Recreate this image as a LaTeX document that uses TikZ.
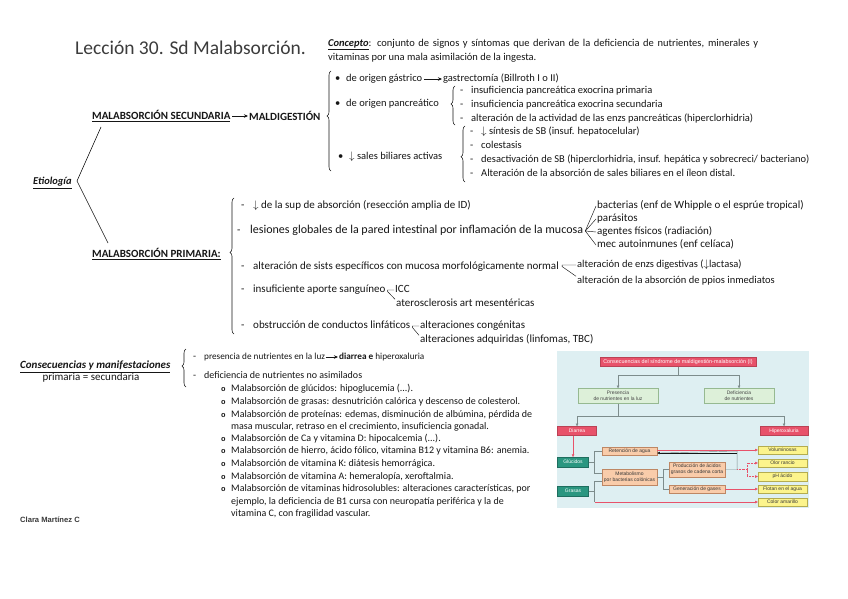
\documentclass[tikz,border=0pt]{standalone}
\usepackage{fontspec}
\setmainfont{Carlito}
\newfontfamily\diagfont{Liberation Sans}
\newfontfamily\autorfont{Liberation Sans}
\newfontfamily\bolafont{Liberation Mono}
\usepackage{tikz}
\usetikzlibrary{positioning,arrows.meta,calc,decorations.pathreplacing}
\definecolor{ink}{RGB}{22,22,22}
\definecolor{titgray}{RGB}{60,60,60}
\definecolor{fondo}{RGB}{222,239,242}
\definecolor{rojo}{RGB}{232,82,106}
\definecolor{verdeclaro}{RGB}{221,240,217}
\definecolor{verdeborde}{RGB}{150,185,145}
\definecolor{teal}{RGB}{42,150,128}
\definecolor{tealborde}{RGB}{30,110,95}
\definecolor{naranja}{RGB}{249,204,170}
\definecolor{naranjaborde}{RGB}{190,135,100}
\definecolor{amarillo}{RGB}{252,244,140}
\definecolor{amarilloborde}{RGB}{180,172,80}
\definecolor{lineagris}{RGB}{125,140,140}
\newcommand\fsec{\fontsize{10.5}{12}\selectfont}
\newcommand\fprim{\fontsize{11}{12.5}\selectfont}
\newcommand\fcons{\fontsize{10}{11.5}\selectfont}
\newcommand\fcab{\fontsize{11}{12.5}\selectfont}
\newcommand\fdiag{\fontsize{5}{6}\selectfont}
\newcommand\guion{-}
\newcommand\bola{{\bolafont\bfseries\fontsize{7.5}{7.5}\selectfont o}}
\tikzset{
  titulo/.style={anchor=west, inner sep=0pt, font=\fontsize{19.5}{22}\selectfont, text=titgray},
  txt/.style={anchor=west, inner sep=0pt, font=\fsec, text=ink, text height=1.5ex, text depth=.4ex},
  ptxt/.style={txt, font=\fprim},
  ctxt/.style={txt, font=\fcons},
  cab/.style={anchor=west, inner sep=0pt, font=\fcab\bfseries, text=ink},
  llave/.style={decorate, decoration={brace, amplitude=4pt, aspect=#1}, line width=0.55pt, draw=ink},
  llave/.default=0.5,
  rama/.style={line width=0.6pt, draw=ink},
  fork/.style={line width=0.45pt, draw=ink},
  flecha/.style={-{Stealth[length=4pt,width=3.5pt]}, line width=0.7pt, draw=ink, shorten <=1.5pt, shorten >=1pt},
  dbox/.style={draw, line width=0.4pt, align=center, inner sep=0pt, font=\diagfont\fdiag},
  rbox/.style={dbox, fill=rojo, draw=rojo!80!black, text=white},
  gbox/.style={dbox, fill=verdeclaro, draw=verdeborde, text=ink!80},
  tbox/.style={dbox, fill=teal, draw=tealborde, text=white},
  obox/.style={dbox, fill=naranja, draw=naranjaborde, text=ink!85},
  ybox/.style={dbox, fill=amarillo, draw=amarilloborde, text=ink!85, minimum width=49pt, minimum height=8.5pt},
  gline/.style={line width=0.45pt, draw=lineagris},
  garrow/.style={gline, -{Triangle[length=2.6pt,width=2.4pt]}},
  parrow/.style={line width=0.45pt, draw=rojo, -{Triangle[length=2.6pt,width=2.4pt]}},
}
\begin{document}
\begin{tikzpicture}[x=1pt,y=-1pt]
\useasboundingbox[fill=white] (0,0) rectangle (848,599);

% titulo y concepto
\node[titulo] (tit) at (75,48) {Lección 30. Sd Malabsorción.};
\node[txt] (conc1) at (328,44) {\hbox to 430pt{\underline{\textbf{\textit{Concepto}}}: conjunto de signos y síntomas que derivan de la deficiencia de nutrientes, minerales y}};
\node[txt] (conc2) at (328,58) {vitaminas por una mala asimilación de la ingesta.};

% etiologia
\node[txt] (etio) at (33,182) {\underline{\textbf{\textit{Etiología}}}};
\node[cab] (sec) at (92,116) {\underline{MALABSORCIÓN SECUNDARIA}};
\node[cab] (maldig) at (249,116) {MALDIGESTIÓN};
\node[cab] (prim) at (92,254) {\underline{MALABSORCIÓN PRIMARIA:}};
\coordinate (vert) at (77,181);
\coordinate (haciaSec) at (101,127);
\coordinate (haciaPrim) at (108,243);
\draw[rama] (haciaSec) -- (vert) -- (haciaPrim);
\draw[flecha] (sec) -- (maldig);

% maldigestion
\coordinate (ll1a) at (331,171);
\coordinate (ll1b) at (331,71);
\draw[llave=0.55] (ll1a) -- (ll1b);
\node[txt] (b1) at (335,79) {•};
\node[txt] (gast) at (346,79) {de origen gástrico};
\node[txt] (gastr) at (443,79) {gastrectomía (Billroth I o II)};
\draw[flecha] (gast) -- (gastr);
\node[txt] (b2) at (335,104) {•};
\node[txt] (panc) at (346,104) {de origen pancreático};
\coordinate (ll2a) at (455,125);
\coordinate (ll2b) at (455,86);
\draw[llave=0.54] (ll2a) -- (ll2b);
\node[txt] (g1) at (460,91) {\guion};
\node[txt] (p1) at (471,91) {insuficiencia pancreática exocrina primaria};
\node[txt] (g2) at (460,105) {\guion};
\node[txt] (p2) at (471,105) {insuficiencia pancreática exocrina secundaria};
\node[txt] (g3) at (460,119) {\guion};
\node[txt] (p3) at (471,119) {alteración de la actividad de las enzs pancreáticas (hiperclorhidria)};
\node[txt] (b3) at (338,157) {•};
\node[txt] (sal) at (349,157) {$\downarrow$ sales biliares activas};
\coordinate (ll3a) at (465,182);
\coordinate (ll3b) at (465,126);
\draw[llave=0.45] (ll3a) -- (ll3b);
\node[txt] (g4) at (470,132) {\guion};
\node[txt] (s1) at (481,132) {$\downarrow$ síntesis de SB (insuf. hepatocelular)};
\node[txt] (g5) at (470,146) {\guion};
\node[txt] (s2) at (481,146) {colestasis};
\node[txt] (g6) at (470,160) {\guion};
\node[txt] (s3) at (481,160) {desactivación de SB (hiperclorhidria, insuf. hepática y sobrecreci/ bacteriano)};
\node[txt] (g7) at (470,174) {\guion};
\node[txt] (s4) at (481,174) {Alteración de la absorción de sales biliares en el íleon distal.};

% malabsorcion primaria
\coordinate (ll4a) at (234,334);
\coordinate (ll4b) at (234,198);
\draw[llave=0.6] (ll4a) -- (ll4b);
\node[ptxt] (g8) at (241,206) {\guion};
\node[ptxt] (sup) at (253,206) {$\downarrow$ de la sup de absorción (resección amplia de ID)};
\node[ptxt] (g9) at (237,231) {\guion};
\node[ptxt, font=\fontsize{12}{13}\selectfont] (les) at (250,231) {lesiones globales de la pared intestinal por inflamación de la mucosa};
\node[ptxt] (bact) at (597,206) {bacterias (enf de Whipple o el esprúe tropical)};
\node[ptxt] (para) at (597,219) {parásitos};
\node[ptxt] (agen) at (597,232) {agentes físicos (radiación)};
\node[ptxt] (mec) at (597,245) {mec autoinmunes (enf celíaca)};
\coordinate (abanico) at ($(les.east)+(2,0)$);
\foreach \dest in {bact,para,agen,mec}
  \draw[fork] (abanico) -- ($(\dest.west)+(-1,0)$);
\node[ptxt] (g10) at (241,267) {\guion};
\node[ptxt] (alt) at (253,267) {alteración de sists específicos con mucosa morfológicamente normal};
\node[txt] (enz) at (577,265) {alteración de enzs digestivas ($\downarrow$lactasa)};
\node[txt] (ppios) at (577,281) {alteración de la absorción de ppios inmediatos};
\coordinate (horqA) at ($(alt.east)+(3,0)$);
\draw[fork] ($(enz.west)+(-1,0)$) -- (horqA |- enz.west) -- ++(0,1.5) -- ($(ppios.north west)+(-1,0)$);
\node[ptxt] (g11) at (241,290) {\guion};
\node[ptxt] (apor) at (253,290) {insuficiente aporte sanguíneo};
\node[ptxt] (icc) at (395,290) {ICC};
\node[ptxt] (ater) at (396,304) {aterosclerosis art mesentéricas};
\coordinate (horqB) at ($(apor.east)+(2,0)$);
\draw[fork] ($(icc.west)+(-1,0)$) -- (horqB) -- ++(0,1.5) -- ($(ater.north west)+(-1,0)$);
\node[ptxt] (g12) at (241,326) {\guion};
\node[ptxt] (obst) at (253,326) {obstrucción de conductos linfáticos};
\node[ptxt] (cong) at (420,326) {alteraciones congénitas};
\node[ptxt] (adq) at (420,340) {alteraciones adquiridas (linfomas, TBC)};
\coordinate (horqC) at ($(obst.east)+(2,0)$);
\draw[fork] ($(cong.west)+(-1,0)$) -- (horqC) -- ++(0,1.5) -- ($(adq.north west)+(-1,0)$);

% consecuencias
\node[ptxt] (cons) at (20,366) {\underline{\textbf{\textit{Consecuencias y manifestaciones}}}};
\node[ptxt, anchor=center] (primsec) at (91,378) {primaria = secundaria};
\coordinate (ll5a) at (186,387);
\coordinate (ll5b) at (186,349);
\draw[llave=0.55] (ll5a) -- (ll5b);
\node[ctxt] (g13) at (193,357) {\guion};
\node[ctxt, font=\fontsize{9.2}{10.5}\selectfont] (pres) at (204,357) {presencia de nutrientes en la luz};
\node[ctxt, font=\fontsize{9.2}{10.5}\selectfont] (diarr) at (339,357) {\textbf{diarrea e} hiperoxaluria};
\draw[flecha, shorten <=0.5pt] (pres) -- (diarr);
\node[ctxt] (g14) at (193,376) {\guion};
\node[ctxt] (defic) at (204,376) {deficiencia de nutrientes no asimilados};
\foreach \yy/\texto in {389/{Malabsorción de glúcidos: hipoglucemia (...).},
  402/{Malabsorción de grasas: desnutrición calórica y descenso de colesterol.},
  415/{Malabsorción de proteínas: edemas, disminución de albúmina, pérdida de},
  439/{Malabsorción de Ca y vitamina D: hipocalcemia (...).},
  451/{Malabsorción de hierro, ácido fólico, vitamina B12 y vitamina B6: anemia.},
  464/{Malabsorción de vitamina K: diátesis hemorrágica.},
  477/{Malabsorción de vitamina A: hemeralopía, xeroftalmia.},
  489/{Malabsorción de vitaminas hidrosolubles: alteraciones características, por}}{
  \node[ctxt] (o\yy) at (221,\yy) {\bola};
  \node[ctxt] (m\yy) at (231,\yy) {\texto};
}
\node[ctxt] (m427) at (231,427) {masa muscular, retraso en el crecimiento, insuficiencia gonadal.};
\node[ctxt] (m502) at (231,502) {ejemplo, la deficiencia de B1 cursa con neuropatía periférica y la de};
\node[ctxt] (m514) at (231,514) {vitamina C, con fragilidad vascular.};

\node[anchor=west, inner sep=0pt, font=\autorfont\bfseries\fontsize{7.6}{8}\selectfont, text=ink!85] (autor) at (20,520) {Clara Martínez C};

% figura: consecuencias del sindrome
\fill[fondo] (557,351) rectangle (809,508);
\node[rbox, minimum width=156pt, minimum height=9pt, font=\diagfont\fontsize{5.4}{6}\selectfont] (dtit) at (678,362) {Consecuencias del síndrome de maldigestión-malabsorción (I)};
\node[gbox, minimum width=80pt, minimum height=15pt] (npres) at (618,396) {Presencia\\de nutrientes en la luz};
\node[gbox, minimum width=70pt, minimum height=15pt] (ndef) at (739,396) {Deficiencia\\de nutrientes};
\node[rbox, minimum width=39pt, minimum height=9pt] (ndia) at (577,431) {Diarrea};
\node[rbox, minimum width=48pt, minimum height=9pt] (nhip) at (784,431) {Hiperoxaluria};
\node[tbox, minimum width=31pt, minimum height=9.5pt] (ngluc) at (573,462) {Glúcidos};
\node[tbox, minimum width=31pt, minimum height=9.5pt] (ngras) at (573,491) {Grasas};
\node[obox, minimum width=55pt, minimum height=8.5pt] (nret) at (629.5,451) {Retención de agua};
\node[obox, minimum width=55pt, minimum height=16pt] (nmet) at (629.5,477) {Metabolismo\\por bacterias colónicas};
\node[obox, minimum width=56pt, minimum height=15pt] (nprod) at (697,469.5) {Producción de ácidos\\grasos de cadena corta};
\node[obox, minimum width=56pt, minimum height=8.5pt] (ngen) at (697,489) {Generación de gases};
\node[ybox] (nvol) at (782.5,450) {Voluminosas};
\node[ybox] (nolor) at (782.5,463) {Olor rancio};
\node[ybox] (nph) at (782.5,476.5) {pH ácido};
\node[ybox] (nflot) at (782.5,489) {Flotan en el agua};
\node[ybox] (ncol) at (782.5,502) {Color amarillo};

\coordinate (d1) at ($(dtit.south)+(0,9)$);
\draw[gline] (dtit.south) -- (d1);
\draw[garrow] (d1) -| (npres.north);
\draw[garrow] (d1) -| (ndef.north);
\coordinate (d2) at ($(npres.south)+(0,12.5)$);
\draw[gline] (npres.south) -- (d2);
\draw[garrow] (d2) -| (ndia.north);
\draw[garrow] (d2) -| (nhip.north);
\draw[parrow] (ngluc.north |- ndia.south) -- (ngluc.north);
\coordinate (d3) at ($(ngluc.east)+(6,0)$);
\draw[gline] (ngluc.east) -- (d3);
\draw[gline] (d3) |- (nret.west);
\draw[gline] (d3) |- ($(nmet.west)+(0,-4)$);
\coordinate (d4) at ($(ngras.east)+(6,0)$);
\draw[gline] (ngras.east) -- (d4);
\draw[gline] (d4) |- ($(nmet.west)+(0,4)$);
\draw[gline] (d4) -- (d4 |- ncol.west);
\draw[parrow] (d4 |- ncol.west) -- (ncol.west);
\coordinate (d5) at ($(nmet.east)+(6,0)$);
\draw[gline] (nmet.east) -- (d5);
\draw[gline] (d5) |- (nprod.west);
\draw[gline] (d5) |- (ngen.west);
\coordinate (d6) at ($(nprod.east)+(12,0)$);
\draw[gline] (nprod.east) -- (d6) -- (d6 |- nret.east) -- ($(nret.east)+(3,2)$);
\draw[gline, -{Triangle[length=2.6pt,width=2.4pt]}, color=ink] (d6 |- nret.east) ++(0,2) -- ($(nret.east)+(0,2)$);
\coordinate (d7) at ($(d6)+(10,0)$);
\draw[line width=0.45pt, draw=rojo, densely dotted] (d6) -- (d7);
\draw[parrow, densely dotted] (d7) |- (nolor.west);
\draw[parrow, densely dotted] (d7) |- (nph.west);
\draw[parrow] (nret.east |- nvol.west) -- (nvol.west);
\draw[parrow] (ngen.east) -- (nflot.west);
\end{tikzpicture}
\end{document}
